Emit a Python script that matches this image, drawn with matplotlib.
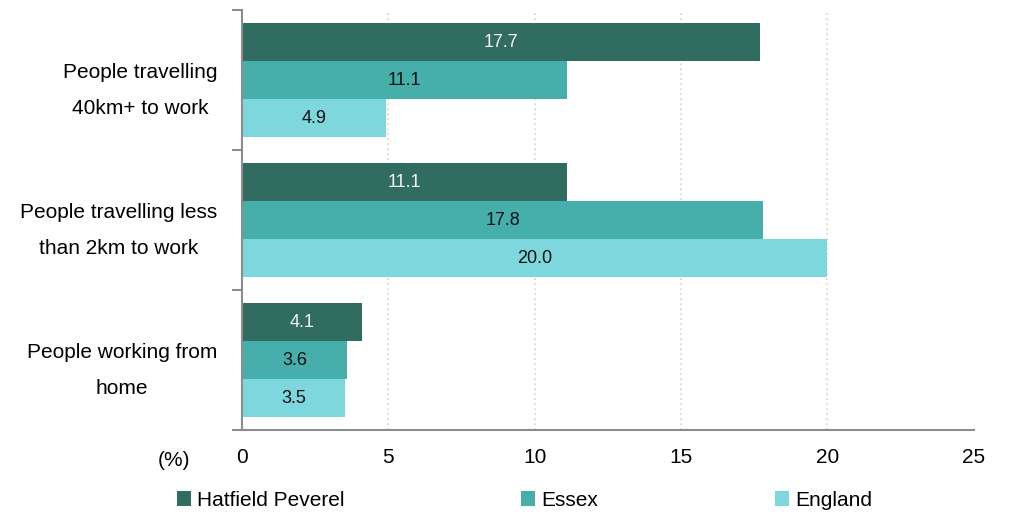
import matplotlib
matplotlib.use("Agg")
import matplotlib.pyplot as plt
import numpy as np

categories = ["People travelling\n40km+ to work",
              "People travelling less\nthan 2km to work",
              "People working from\nhome"]
series_names = ["Hatfield Peverel", "Essex", "England"]
hatfield = [17.7, 11.1, 4.1]
essex = [11.1, 17.8, 3.6]
england = [4.9, 20.0, 3.5]
colors = ["#306C5F", "#46AFAB", "#7ED7DD"]
label_colors = ["#F2F2F2", "#111111", "#111111"]

plt.rcParams['font.family'] = ['Liberation Sans', 'DejaVu Sans']

fig = plt.figure(figsize=(10.09, 5.12), dpi=100)
ax = fig.add_axes([0.240, 0.160, 0.725, 0.820])

y = np.arange(len(categories))
h = 0.271
handles = []
for i, (vals, name) in enumerate(zip([hatfield, essex, england], series_names)):
    pos = y + (i - 1) * h
    b = ax.barh(pos, vals, height=h, color=colors[i], label=name, zorder=2)
    handles.append(b)
    for p, v in zip(pos, vals):
        ax.text(v / 2, p, f"{v:.1f}", ha="center", va="center",
                color=label_colors[i], fontsize=13, zorder=3)

ax.set_xlim(0, 25)
ax.set_ylim(2.5, -0.5)
ax.set_xticks([0, 5, 10, 15, 20, 25])
ax.tick_params(axis="x", length=0, pad=13, labelsize=15)
for gx in [5, 10, 15, 20]:
    ax.axvline(gx, color="#D8D8B0", linestyle=(0, (1, 2)), linewidth=1.2, zorder=1)

ax.set_yticks(y)
ax.set_yticklabels(categories, multialignment="center", linespacing=2.1, fontsize=15)
ax.tick_params(axis="y", which="major", length=0, pad=18)
ax.set_yticks([-0.5, 0.5, 1.5, 2.5], minor=True)
ax.tick_params(axis="y", which="minor", length=7, width=1.5, color="#8C8C8C")

for s in ["top", "right"]:
    ax.spines[s].set_visible(False)
ax.spines["left"].set_color("#8C8C8C")
ax.spines["left"].set_linewidth(1.5)
ax.spines["bottom"].set_color("#8C8C8C")
ax.spines["bottom"].set_linewidth(1.5)

ax.text(-0.115, -0.05, "(%)", transform=ax.transAxes, ha="left", va="top", fontsize=15)

leg_x = [0.1754, 0.5164, 0.768]
for hd, name, lx in zip(handles, series_names, leg_x):
    fig.legend(handles=[hd], labels=[name], loc="center left",
               bbox_to_anchor=(lx, 0.023), frameon=False, fontsize=15,
               handlelength=0.67, handleheight=0.67, handletextpad=0.3,
               borderpad=0, borderaxespad=0)

fig.savefig("out.png", dpi=100)
